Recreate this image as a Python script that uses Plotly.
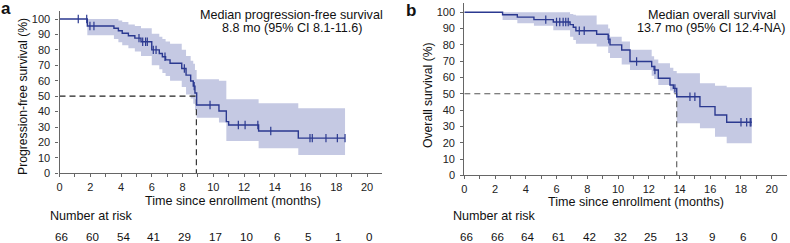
import plotly.graph_objects as go

W, H = 790, 243
def fx(p): return p / W
def fy(p): return 1 - p / H

# ---------------- data: panel a (PFS) ----------------
pfs_t = [0, 1.81, 3.54, 3.83, 4.08, 4.48, 4.9, 5.3, 6.0, 6.49, 6.69, 6.9, 7.19, 7.95, 8.23, 8.53, 8.70, 8.81, 8.92, 10.37, 10.85, 11.0, 12.95, 15.53, 18.57]
pfs_s = [100, 95.5, 94.0, 92.4, 90.8, 89.2, 87.6, 85.3, 80.0, 77.6, 75.5, 73.5, 71.3, 67.9, 63.6, 59.8, 56.5, 52.0, 44.3, 40.4, 33.5, 31.3, 27.4, 22.8, 22.8]
pfs_band_t = [0, 1.81, 3.54, 3.83, 4.08, 4.48, 4.9, 5.3, 6.0, 6.49, 6.69, 6.9, 7.19, 7.95, 8.23, 8.53, 8.70, 8.81, 8.92, 10.37, 10.85, 12.95, 15.53, 18.57]
pfs_up = [100, 100, 100, 99, 98, 96.5, 95.5, 94, 90.5, 88.5, 87, 85.5, 84, 80, 76, 73, 71, 67, 61, 60, 48, 45.4, 42.1, 42.1]
pfs_lo = [100, 89.5, 87, 85, 83, 81, 79, 76, 70, 67.5, 65, 63, 60, 56, 51, 48.5, 45, 41, 36, 33, 21, 16.2, 11.9, 11.9]
pfs_cens_t = [1.22, 1.77, 1.98, 2.24, 5.17, 5.41, 5.6, 5.71, 6.1, 6.28, 6.86, 8.12, 8.76, 9.79, 11.63, 12.07, 12.9, 13.74, 16.29, 16.44, 17.33, 18.07, 18.57]
pfs_cens_s = [100, 100, 95.5, 95.5, 87.6, 85.3, 85.3, 85.3, 80, 80, 75.5, 67.9, 56.5, 44.3, 31.3, 31.3, 31.3, 27.4, 22.8, 22.8, 22.8, 22.8, 22.8]
pfs_median = 8.9
pfs_risk = [66, 60, 54, 41, 29, 17, 10, 6, 5, 1, 0]

# ---------------- data: panel b (OS) ----------------
os_t = [0, 2.49, 3.45, 4.53, 5.79, 6.88, 7.09, 7.26, 8.61, 9.36, 9.48, 10.24, 10.78, 12.19, 12.35, 12.62, 13.38, 13.6, 13.82, 15.33, 16.31, 17.07, 18.7]
os_s = [100, 98.5, 97.0, 95.5, 94.0, 92.4, 90.8, 88.7, 86.5, 83.5, 80.0, 76.9, 69.8, 66.7, 64.6, 59.5, 55.4, 53.3, 48.2, 42.1, 37.0, 32.5, 32.5]
os_band_t = [0, 2.49, 3.45, 4.53, 5.79, 6.88, 7.09, 7.26, 8.61, 9.36, 9.48, 10.24, 10.78, 12.19, 12.35, 12.62, 13.38, 13.6, 13.82, 15.33, 16.31, 17.07, 18.7]
os_up = [100, 100, 100, 100, 100, 99, 98.5, 98, 92.5, 90, 85, 82, 77, 73, 71, 68.7, 66, 64, 62.6, 56.4, 55, 54, 54]
os_lo = [100, 95.3, 93.3, 91.8, 89, 85, 83, 80.7, 79, 75, 72, 68, 64.6, 61, 59, 55.4, 52, 50.3, 32, 28.8, 23.7, 19.6, 19.6]
os_cens_t = [5.3, 6.0, 6.21, 6.43, 6.6, 6.76, 7.48, 7.8, 9.4, 11.21, 12.4, 13.7, 14.68, 15.0, 18.0, 18.37, 18.6, 18.65]
os_cens_s = [95.5, 94, 94, 94, 94, 94, 88.7, 88.7, 83.5, 69.8, 64.6, 53.3, 48.2, 48.2, 32.5, 32.5, 32.5, 32.5]
os_median = 13.82
os_risk = [66, 66, 64, 61, 42, 32, 25, 13, 9, 6, 0]

risk_times = [0, 2, 4, 6, 8, 10, 12, 14, 16, 18, 20]
x_ticks = list(range(0, 21))
y_ticks = list(range(0, 101, 10))

LINE = "#2b3990"
BAND = "#c5c9e3"
FONT = "Liberation Sans, Arial, sans-serif"

fig = go.Figure()

def add_panel(xa, ya, t, s, bt, up, lo, ct, cs, med, dashcol):
    fig.add_trace(go.Scatter(x=bt, y=lo, mode="lines", line=dict(width=0, shape="hv", color=BAND),
                             xaxis=xa, yaxis=ya, showlegend=False, hoverinfo="skip"))
    fig.add_trace(go.Scatter(x=bt, y=up, mode="lines", line=dict(width=0, shape="hv", color=BAND),
                             fill="tonexty", fillcolor=BAND, xaxis=xa, yaxis=ya, showlegend=False, hoverinfo="skip"))
    fig.add_trace(go.Scatter(x=[0, med, med], y=[50, 50, 0], mode="lines",
                             line=dict(color=dashcol, width=1.1, dash="6px,4px"),
                             xaxis=xa, yaxis=ya, showlegend=False))
    fig.add_trace(go.Scatter(x=t, y=s, mode="lines", line=dict(color=LINE, width=1.4, shape="hv"),
                             xaxis=xa, yaxis=ya, showlegend=False))
    fig.add_trace(go.Scatter(x=ct, y=cs, mode="markers",
                             marker=dict(symbol="line-ns", size=6, line=dict(color=LINE, width=1.2)),
                             xaxis=xa, yaxis=ya, showlegend=False))

add_panel("x", "y", pfs_t, pfs_s, pfs_band_t, pfs_up, pfs_lo, pfs_cens_t, pfs_cens_s, pfs_median, "#222222")
add_panel("x2", "y2", os_t, os_s, os_band_t, os_up, os_lo, os_cens_t, os_cens_s, os_median, "#555555")

xt_text = [str(v) if v % 2 == 0 else "" for v in x_ticks]
axis_common = dict(showgrid=False, zeroline=False, showline=True, linecolor="#666666", linewidth=1.2,
                   ticks="outside", ticklen=3, tickcolor="#666666", tickwidth=1, automargin=False,
                   tickfont=dict(family=FONT, size=11, color="#222222"))

fig.update_layout(
    width=W, height=H, margin=dict(l=0, r=0, t=0, b=0, autoexpand=False),
    paper_bgcolor="white", plot_bgcolor="white", showlegend=False,
    xaxis=dict(domain=[fx(59.5), fx(382.4)], range=[0, 21], anchor="y",
               tickvals=x_ticks, ticktext=xt_text, **axis_common),
    yaxis=dict(domain=[fy(173.3), fy(11.3)], range=[0, 105], anchor="x",
               tickvals=y_ticks, ticklabelstandoff=3, **axis_common),
    xaxis2=dict(domain=[fx(464.3), fx(787.1)], range=[0, 21], anchor="y2",
                tickvals=x_ticks, ticktext=xt_text, **axis_common),
    yaxis2=dict(domain=[fy(175.3), fy(2.5)], range=[0, 106], anchor="x2",
                tickvals=y_ticks, ticklabelstandoff=3, **axis_common),
)

ann = []
def txt(text, x, y, size=12.6, bold=False, xanchor="center", angle=0, xref="paper", xshift=0):
    ann.append(dict(text=("<b>%s</b>" % text) if bold else text, x=x if xref != "paper" else fx(x),
                    y=fy(y), xref=xref, yref="paper", showarrow=False, xanchor=xanchor, yanchor="middle",
                    textangle=angle, xshift=xshift, borderpad=0,
                    font=dict(family=FONT, size=size, color="#111111")))

txt("a", 6, 9, size=17, bold=True)
txt("b", 411, 10, size=17, bold=True)
txt("Progression-free survival (%)", 23, 97, size=12.2, angle=-90)
txt("Overall survival (%)", 428, 95, size=12.2, angle=-90)
txt("Time since enrollment (months)", 233, 201)
txt("Time since enrollment (months)", 636, 201.5)
txt("Number at risk", 49, 216, xanchor="left")
txt("Number at risk", 452, 216, xanchor="left")
txt("Median progression-free survival", 291.5, 15)
txt("8.8 mo (95% CI 8.1-11.6)", 291.5, 28.5)
txt("Median overall survival", 712, 15)
txt("13.7 mo (95% CI 12.4-NA)", 711, 28.5)
for tm, n in zip(risk_times, pfs_risk):
    txt(str(n), tm, 236.8, size=11.6, xref="x", xshift=2)
for tm, n in zip(risk_times, os_risk):
    txt(str(n), tm, 236.8, size=11.6, xref="x2", xshift=2)

fig.update_layout(annotations=ann)
fig.write_html("out.html", config={"displayModeBar": False},
               post_script="document.body.style.margin='0';document.body.style.padding='0';")
